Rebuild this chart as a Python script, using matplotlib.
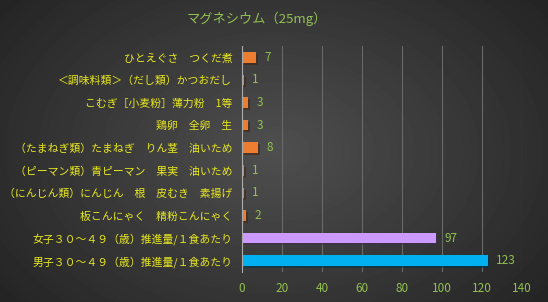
import matplotlib
matplotlib.use("Agg")
import matplotlib.pyplot as plt
import matplotlib.patheffects as pe
import numpy as np

plt.rcParams['font.family'] = ['Noto Sans CJK JP', 'DejaVu Sans']

labels = [
    "ひとえぐさ　つくだ煮",
    "＜調味料類＞（だし類）かつおだし",
    "こむぎ［小麦粉］薄力粉　1等",
    "鶏卵　全卵　生",
    "（たまねぎ類）たまねぎ　りん茎　油いため",
    "（ピーマン類）青ピーマン　果実　油いため",
    "（にんじん類）にんじん　根　皮むき　素揚げ",
    "板こんにゃく　精粉こんにゃく",
    "女子３０～４９（歳）推進量/１食あたり",
    "男子３０～４９（歳）推進量/１食あたり",
]
values = [7, 1, 3, 3, 8, 1, 1, 2, 97, 123]
bar_colors = ["#ed7d31"] * 8 + ["#cc99ff", "#00b0f0"]
xticks = [0, 20, 40, 60, 80, 100, 120, 140]

GREEN = "#92c050"
YELLOW = "#e8e820"

fig = plt.figure(figsize=(5.48, 3.02), dpi=100)

# radial gradient background
bg = fig.add_axes([0, 0, 1, 1], zorder=-10)
yy, xx = np.mgrid[0:302, 0:548]
r = np.sqrt(((xx - 274) / 330.0) ** 2 + ((yy - 151) / 230.0) ** 2)
shade = np.clip(0.31 - 0.16 * r, 0.14, 0.31)
bg.imshow(shade, cmap="gray", vmin=0, vmax=1, aspect="auto", extent=[0, 1, 0, 1])
bg.axis("off")

ax = fig.add_axes([242 / 548, 1 - 272 / 302, 280 / 548, 226 / 302])
ax.set_facecolor("none")
y = np.arange(len(labels))
bars = ax.barh(y, values, height=0.47, color=bar_colors, zorder=3,
               path_effects=[pe.SimplePatchShadow(offset=(1.5, -1.5), alpha=0.6), pe.Normal()])
for yi, v in zip(y, values):
    ax.annotate(str(v), (v, yi), xytext=(6, 0), textcoords="offset points",
                va="center", ha="left", color=GREEN, fontsize=8.5)

ax.set_xlim(0, 140)
ax.set_ylim(len(labels) - 0.5, -0.5)
ax.set_xticks(xticks)
ax.set_yticks(y)
ax.set_yticklabels(labels, color=YELLOW, fontsize=7.8)
ax.tick_params(axis="x", colors=GREEN, labelsize=8.5, length=0, pad=7)
ax.tick_params(axis="y", length=0, pad=7)
ax.grid(axis="x", color="#6a6a6a", linewidth=0.8, zorder=0)
for s in ["top", "right", "bottom"]:
    ax.spines[s].set_visible(False)
ax.spines["left"].set_color("#aaaaaa")
ax.spines["left"].set_linewidth(0.8)
ax.spines["left"].set_zorder(4)

fig.text(257 / 548, 1 - 19 / 302, "マグネシウム（25mg）", color=GREEN,
         fontsize=9.5, ha="center", va="center")

fig.savefig("out.png", dpi=100)
